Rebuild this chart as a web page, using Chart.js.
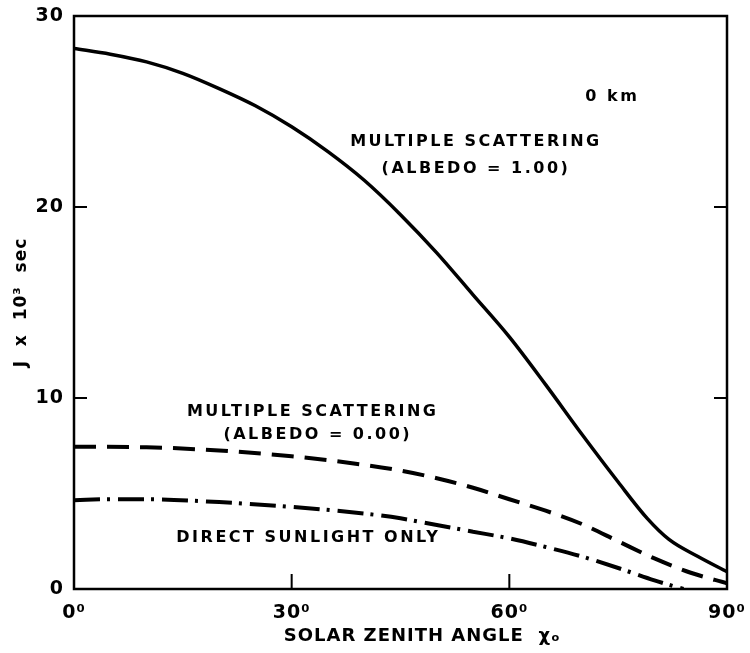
<!DOCTYPE html>
<html>
<head>
<meta charset="utf-8">
<script src="https://cdn.jsdelivr.net/npm/chart.js@4"></script>
<style>
  html, body { margin: 0; padding: 0; background: #fff; }
  #wrap { width: 750px; height: 653px; }
</style>
</head>
<body>
<div id="wrap"><canvas id="chart"></canvas></div>
<script>
// albedo 1.00, multiple scattering (solid)
const anglesAlb1 = [0, 5, 10, 15, 20, 25, 30, 35, 40, 45, 50, 55, 60, 65, 70, 75, 79, 82, 86, 90];
const valuesAlb1 = [28.3, 28.0, 27.6, 27.0, 26.2, 25.3, 24.2, 22.9, 21.4, 19.6, 17.6, 15.4, 13.2, 10.7, 8.1, 5.6, 3.7, 2.6, 1.7, 0.9];
// albedo 0.00, multiple scattering (dashed)
const anglesAlb0 = [0, 10, 20, 30, 40, 45, 50, 55, 60, 65, 70, 75, 80, 85, 90];
const valuesAlb0 = [7.45, 7.42, 7.25, 6.95, 6.5, 6.2, 5.8, 5.3, 4.7, 4.1, 3.4, 2.5, 1.6, 0.85, 0.3];
// direct sunlight only (dash-dot)
const anglesDirect = [0, 5, 10, 20, 30, 40, 45, 50, 55, 60, 65, 70, 75, 80, 84];
const valuesDirect = [4.65, 4.7, 4.7, 4.55, 4.3, 3.95, 3.7, 3.35, 3.0, 2.65, 2.2, 1.7, 1.1, 0.45, 0.0];

const xTicks = [0, 30, 60, 90];
const yTicks = [0, 10, 20, 30];

// texte dans le graphique, positions en unités des axes
const noteTexts = ['0 km', 'MULTIPLE SCATTERING', '(ALBEDO = 1.00)', 'MULTIPLE SCATTERING', '(ALBEDO = 0.00)', 'DIRECT SUNLIGHT ONLY'];
const noteX = [74.2, 55.4, 55.4, 32.9, 33.6, 32.3];
const noteY = [25.75, 23.4, 22.0, 9.25, 8.05, 2.7];

const toPts = (xs, ys) => xs.map((x, i) => ({x: x, y: ys[i]}));
const FONT = '"DejaVu Sans", "Liberation Sans", sans-serif';

const framePlugin = {
  id: 'frame',
  beforeDraw(chart) {
    chart.ctx.letterSpacing = '1px';
  },
  afterDatasetsDraw(chart) {
    const {ctx, chartArea: a, scales: {x, y}} = chart;
    ctx.save();
    ctx.strokeStyle = '#000';
    ctx.lineWidth = 2.5;
    ctx.strokeRect(a.left, a.top, a.right - a.left, a.bottom - a.top);
    // petites graduations vers l'intérieur
    ctx.lineWidth = 2;
    ctx.beginPath();
    yTicks.slice(1, -1).forEach(v => {
      const py = y.getPixelForValue(v);
      ctx.moveTo(a.left, py); ctx.lineTo(a.left + 13, py);
      ctx.moveTo(a.right, py); ctx.lineTo(a.right - 13, py);
    });
    xTicks.slice(1, -1).forEach(v => {
      const px = x.getPixelForValue(v);
      ctx.moveTo(px, a.bottom); ctx.lineTo(px, a.bottom - 15);
    });
    ctx.stroke();

    ctx.fillStyle = '#000';
    ctx.font = 'bold 16px ' + FONT;
    ctx.letterSpacing = '2.5px';
    ctx.textAlign = 'center';
    ctx.textBaseline = 'middle';
    noteTexts.forEach((t, i) => {
      ctx.fillText(t, x.getPixelForValue(noteX[i]), y.getPixelForValue(noteY[i]));
    });
    ctx.restore();
  }
};

new Chart(document.getElementById('chart'), {
  type: 'line',
  data: {
    datasets: [
      {label: 'Albedo 1.00', data: toPts(anglesAlb1, valuesAlb1), borderColor: '#000', borderWidth: 3.5, pointRadius: 0, cubicInterpolationMode: 'monotone'},
      {label: 'Albedo 0.00', data: toPts(anglesAlb0, valuesAlb0), borderColor: '#000', borderWidth: 4, borderDash: [22, 11], pointRadius: 0, cubicInterpolationMode: 'monotone'},
      {label: 'Direct', data: toPts(anglesDirect, valuesDirect), borderColor: '#000', borderWidth: 4, borderDash: [26, 7, 3, 8], pointRadius: 0, cubicInterpolationMode: 'monotone'}
    ]
  },
  options: {
    responsive: true,
    maintainAspectRatio: false,
    animation: false,
    layout: {padding: {left: 0, right: 23, top: 16, bottom: 0}},
    plugins: {legend: {display: false}, tooltip: {enabled: false}},
    scales: {
      x: {
        type: 'linear', min: 0, max: 90,
        afterBuildTicks: s => { s.ticks = xTicks.map(v => ({value: v})); },
        afterFit: s => { s.height = 64; s.paddingLeft = 0; s.paddingRight = 0; },
        grid: {display: false, drawTicks: false},
        border: {display: false},
        ticks: {color: '#000', font: {family: FONT, size: 19, weight: 'bold'}, padding: 13, maxRotation: 0, callback: v => v + '⁰'},
        title: {display: true, text: '      SOLAR ZENITH ANGLE  χₒ', color: '#000', font: {family: FONT, size: 18, weight: 'bold'}, padding: {top: 0, bottom: 6}}
      },
      y: {
        min: 0, max: 30,
        afterBuildTicks: s => { s.ticks = yTicks.map(v => ({value: v})); },
        afterFit: s => { s.width = 74; s.paddingTop = 0; s.paddingBottom = 0; },
        grid: {display: false, drawTicks: false},
        border: {display: false},
        ticks: {color: '#000', font: {family: FONT, size: 19, weight: 'bold'}, padding: 10},
        title: {display: true, text: 'J  x  10³  sec', color: '#000', font: {family: FONT, size: 17, weight: 'bold'}, padding: {top: 11, bottom: 0}}
      }
    }
  },
  plugins: [framePlugin]
});
</script>
</body>
</html>
